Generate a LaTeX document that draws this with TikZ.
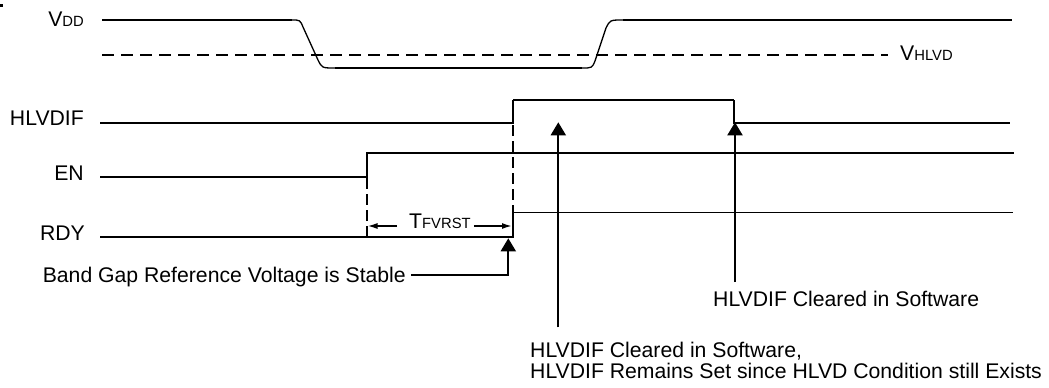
\documentclass[tikz,border=0pt]{standalone}
\usepackage{fontspec}
\setmainfont{Liberation Sans}
\usetikzlibrary{arrows.meta}
\newcommand{\smc}[1]{{\fontsize{14.8}{16}\selectfont #1}}
\begin{document}
\begin{tikzpicture}[x=1pt,y=-1pt,
  sig/.style={line width=2pt},
  thinsig/.style={line width=1.1pt},
  edge/.style={line width=1.3pt},
  hdash/.style={line width=1.8pt, dash pattern=on 12pt off 7pt},
  vdash/.style={line width=1.8pt, dash pattern=on 11pt off 5pt},
  lbl/.style={inner sep=0pt, font=\fontsize{21.2}{20.7}\selectfont},
  bigarrow/.style={line width=2pt, -{Triangle[width=15pt,length=13pt]}},
  dimarrow/.style={line width=1.6pt, -{Latex[width=6pt,length=10pt]}},
]
\useasboundingbox (0,0) rectangle (1049,388);
\fill (0,3.5) rectangle (2.7,6.7);

% signal labels
\node[lbl, anchor=base east] (lvdd) at (84,26.7) {V\smc{DD}};
\node[lbl, anchor=base east] (lhl) at (84,125.7) {HLVDIF};
\node[lbl, anchor=base east] (len) at (84,180) {EN};
\node[lbl, anchor=base east] (lrdy) at (85,240.7) {RDY};
\node[lbl, anchor=base west] (lvh) at (900,60.7) {V\smc{HLVD}};

% VDD waveform and threshold
\draw[sig] (102,20) -- (292,20);
\draw[edge] (292,20) .. controls (300,20) .. (303,27) -- (318,60) .. controls (322,68) .. (335,68);
\draw[sig] (335,68) -- (582,68);
\draw[edge] (582,68) .. controls (592,68) .. (595,61) -- (606,28) .. controls (610,20) .. (623,20);
\draw[sig] (623,20) -- (1012,20);
\draw[hdash] (102,55) -- (888,55);

% HLVDIF
\draw[sig] (100,123.3) -- (513.3,123.3) -- (513.3,100);
\draw[thinsig] (513.3,100) -- (734,100);
\draw[sig] (734,100) -- (734,123.3) -- (1010,123.3);

% EN
\draw[sig] (100,177.3) -- (366.7,177.3) -- (366.7,153.3) -- (1014,153.3);

% RDY
\draw[sig] (100,236.7) -- (512.7,236.7) -- (512.7,212.7);
\draw[thinsig] (512.7,212.7) -- (1013,212.7);

% dashed verticals
\draw[vdash] (366.7,178) -- (366.7,236.7);
\draw[vdash] (513,125) -- (513,212.7);

% TFVRST
\coordinate (tEN) at (367.5,226);
\coordinate (tRDY) at (512,226);
\node[lbl, anchor=base west] (tf) at (409,228.3) {T\smc{FVRST}};
\draw[dimarrow] ([shift={(-12pt,2.3pt)}]tf.base west) -- (tEN);
\draw[dimarrow] ([shift={(3pt,2.3pt)}]tf.base east) -- (tRDY);

% Band gap
\coordinate (bgtip) at (508.3,238.3);
\node[lbl, anchor=base east] (bg) at (406,282.7) {Band Gap Reference Voltage is Stable};
\draw[bigarrow] ([shift={(5pt,7.7pt)}]bg.base east) -| (bgtip);

% HLVDIF cleared arrows
\coordinate (a1b) at (558.3,327.3);
\coordinate (a1t) at (558.3,122.3);
\coordinate (a2b) at (735,282);
\coordinate (a2t) at (735,122.3);
\draw[bigarrow] (a1b) -- (a1t);
\draw[bigarrow] (a2b) -- (a2t);
\node[lbl, anchor=base west] (c2) at (713,306.7) {HLVDIF Cleared in Software};
\node[lbl, anchor=north west, align=left] (c1) at (530,342.4) {HLVDIF Cleared in Software,\\HLVDIF Remains Set since HLVD Condition still Exists};
\end{tikzpicture}
\end{document}
